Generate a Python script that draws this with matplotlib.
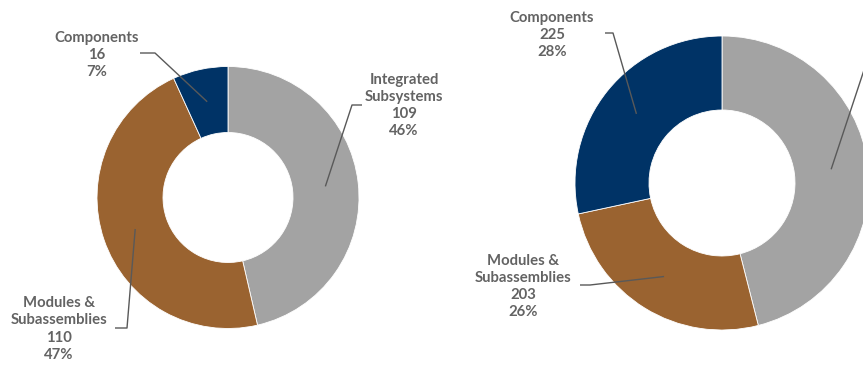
import numpy as np
import matplotlib
matplotlib.use("Agg")
import matplotlib.pyplot as plt

categories = ["Integrated\nSubsystems", "Modules &\nSubassemblies", "Components"]
values_left = [109, 110, 16]
values_right = [365, 203, 225]
colors = ["#A3A3A3", "#9A6330", "#003366"]

W, H = 863, 367
fig = plt.figure(figsize=(W / 100, H / 100), dpi=100)
ax = fig.add_axes([0, 0, 1, 1])

def Y(y):
    return H - y

text_color = "#636363"
font = dict(family=["Lato", "DejaVu Sans"], fontsize=10.7, fontweight="bold", color=text_color)

def donut(values, cx, cy, r_out, r_in, labels_layout):
    center = (cx, Y(cy))
    wedges, _ = ax.pie(values, colors=colors, startangle=90, counterclock=False,
                       center=center, radius=r_out,
                       wedgeprops=dict(width=r_out - r_in, edgecolor="white", linewidth=0.6))
    total = sum(values)
    r_mid = (r_out + r_in) / 2
    for i, w in enumerate(wedges):
        ang = np.deg2rad((w.theta1 + w.theta2) / 2)
        ax_ = center[0] + r_mid * np.cos(ang)
        ay_ = center[1] + r_mid * np.sin(ang)
        txt_pos, p_start, p_elbow = labels_layout[i]
        pct = round(100 * values[i] / total)
        if txt_pos is not None:
            tx, ty = txt_pos
            ax.text(tx, Y(ty), f"{categories[i]}\n{values[i]}\n{pct}%", ha="center", va="center",
                    linespacing=1.28, **font)
        ax.plot([p_start[0], p_elbow[0], ax_], [Y(p_start[1]), Y(p_elbow[1]), ay_],
                color="#595959", lw=1.0, solid_capstyle="butt")

# left donut
donut(values_left, 228, 197.5, 131, 65, [
    ((404, 105.5), (362, 105), (352, 105)),
    ((59, 329), (115, 328), (127, 328)),
    ((97, 55), (140, 53), (155, 53)),
])
# right donut (its Integrated Subsystems label lies beyond the right edge)
donut(values_right, 722, 183, 147, 73, [
    (None, (876, 64), (866, 64)),
    ((523, 286.5), (580, 285), (590, 285)),
    ((552, 35), (605, 33), (613, 33)),
])

ax.set_xlim(0, W)
ax.set_ylim(0, H)
ax.set_aspect("equal")
ax.axis("off")
fig.savefig("out.png", dpi=100, facecolor="white")
